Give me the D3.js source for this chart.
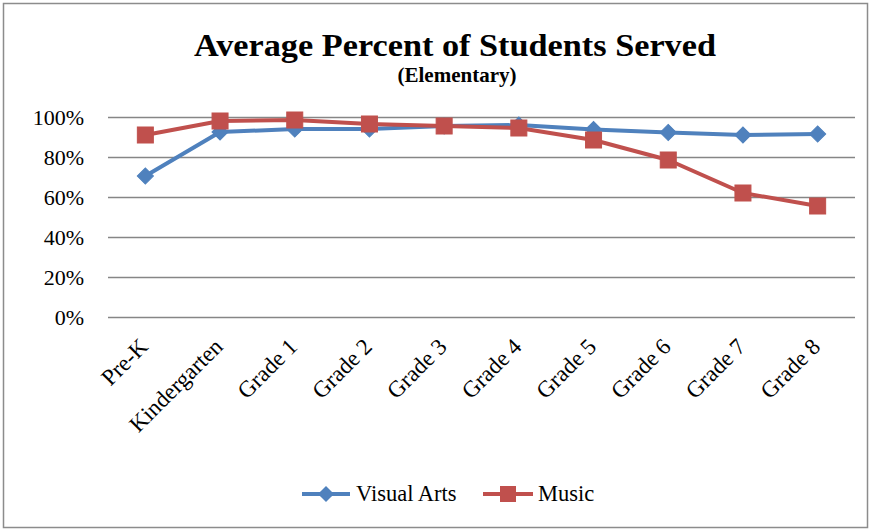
<!DOCTYPE html>
<html>
<head>
<meta charset="utf-8">
<script src="https://cdn.jsdelivr.net/npm/d3@7"></script>
<style>
  html, body { margin: 0; padding: 0; background: #fff; }
  svg text { font-family: "Liberation Serif", "DejaVu Serif", serif !important; fill: #000; }
</style>
</head>
<body>
<svg id="chart" width="872" height="531"></svg>
<script>
// Grade levels along the x axis
const categories = ["Pre-K", "Kindergarten", "Grade 1", "Grade 2", "Grade 3",
                    "Grade 4", "Grade 5", "Grade 6", "Grade 7", "Grade 8"];
// Average percent of students served, per grade
const visualArts = [70.5, 92.5, 94, 94, 95.5, 96, 93.8, 92.3, 91, 91.5];
const music      = [91, 98, 98.5, 96.5, 95.5, 94.5, 88.5, 78.5, 62, 55.5];
const yTicks = [0, 20, 40, 60, 80, 100];

const blue = "#4F81BD", red = "#C0504D", grid = "#868686";
const serif = "'Liberation Serif', 'DejaVu Serif', serif";

const svg = d3.select("#chart");

// outer frame
svg.append("rect").attr("x", 3.5).attr("y", 3.5).attr("width", 864).attr("height", 524)
  .attr("fill", "#fff").attr("stroke", "#8c8c8c").attr("stroke-width", 1.5);

const plot = { left: 108, right: 855, top: 117, bottom: 317 };

const x = d3.scaleBand().domain(categories).range([plot.left, plot.right]);
const y = d3.scaleLinear().domain([0, 100]).range([plot.bottom, plot.top]);

// title
svg.append("text").attr("x", 455).attr("y", 56).attr("text-anchor", "middle")
  .style("font-family", serif)
  .attr("font-size", 32).attr("font-weight", "bold").attr("textLength", 522)
  .attr("lengthAdjust", "spacingAndGlyphs")
  .text("Average Percent of Students Served");
svg.append("text").attr("x", 457).attr("y", 82).attr("text-anchor", "middle")
  .style("font-family", serif)
  .attr("font-size", 21).attr("font-weight", "bold")
  .text("(Elementary)");

// horizontal gridlines with y-axis labels
const yAxis = d3.axisLeft(y).tickValues(yTicks)
  .tickSize(-(plot.right - plot.left)).tickSizeOuter(0).tickPadding(24)
  .tickFormat(d => d + "%");
const gy = svg.append("g").attr("transform", `translate(${plot.left},0)`).call(yAxis);
gy.select(".domain").remove();
gy.selectAll(".tick line").attr("stroke", grid).attr("stroke-width", 1.3);
gy.selectAll(".tick text").attr("font-size", 22).style("font-family", serif).attr("fill", "#000");

// category labels, rotated, ending just below each category
const xAxis = d3.axisBottom(x).tickSize(0).tickPadding(0);
const gx = svg.append("g").attr("transform", `translate(0,${plot.bottom})`).call(xAxis);
gx.select(".domain").remove();
gx.selectAll(".tick text")
  .attr("font-size", 23).style("font-family", serif).attr("fill", "#000")
  .attr("text-anchor", "end")
  .attr("dy", 0)
  .attr("transform", "translate(4,31) rotate(-45)");

const cx = d => x(d) + x.bandwidth() / 2;
const line = d3.line().x((d, i) => cx(categories[i])).y(d => y(d));

// Visual Arts series
svg.append("path").datum(visualArts).attr("d", line)
  .attr("fill", "none").attr("stroke", blue).attr("stroke-width", 4).attr("stroke-linejoin", "round");
svg.append("g").selectAll("path").data(visualArts).join("path")
  .attr("d", d3.symbol(d3.symbolSquare, 130))
  .attr("transform", (d, i) => `translate(${cx(categories[i])},${y(d)}) rotate(45)`)
  .attr("fill", blue).attr("stroke", blue).attr("stroke-width", 1);

// Music series
svg.append("path").datum(music).attr("d", line)
  .attr("fill", "none").attr("stroke", red).attr("stroke-width", 4).attr("stroke-linejoin", "round");
svg.append("g").selectAll("rect").data(music).join("rect")
  .attr("x", (d, i) => cx(categories[i]) - 8).attr("y", d => y(d) - 8)
  .attr("width", 16).attr("height", 16)
  .attr("fill", red).attr("stroke", red).attr("stroke-width", 1);

// legend
const legend = svg.append("g").attr("transform", "translate(0,494)");
legend.append("line").attr("x1", 302).attr("x2", 350).attr("stroke", blue).attr("stroke-width", 4);
legend.append("path").attr("d", d3.symbol(d3.symbolSquare, 130))
  .attr("transform", "translate(326,0) rotate(45)").attr("fill", blue);
legend.append("text").attr("x", 356).attr("y", 7).attr("font-size", 22.5)
  .style("font-family", serif).text("Visual Arts");
legend.append("line").attr("x1", 483).attr("x2", 533).attr("stroke", red).attr("stroke-width", 4);
legend.append("rect").attr("x", 500).attr("y", -8).attr("width", 16).attr("height", 16).attr("fill", red);
legend.append("text").attr("x", 538).attr("y", 7).attr("font-size", 22.5)
  .style("font-family", serif).text("Music");
</script>
</body>
</html>
